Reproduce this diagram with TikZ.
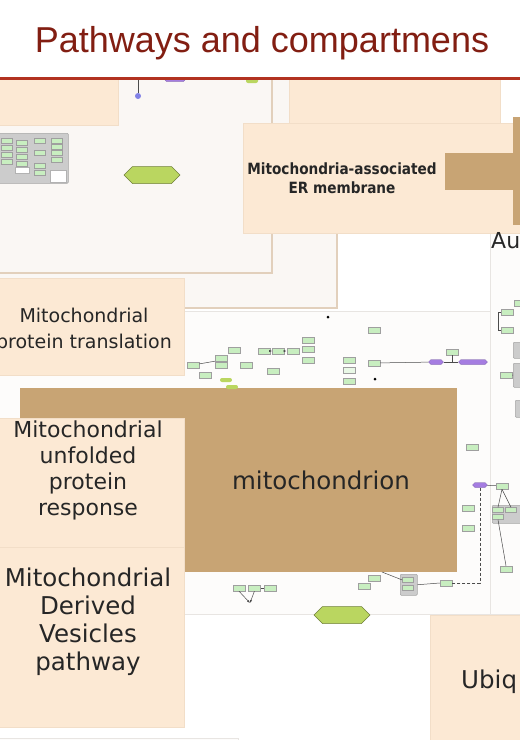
\documentclass[tikz,border=0pt]{standalone}
\usepackage{fontspec}
\setmainfont{DejaVu Sans}
\newfontfamily\titlefont{Liberation Sans}
\newfontfamily\mamfont{DejaVu Sans}[FakeStretch=0.88]
\usetikzlibrary{arrows.meta,positioning,shapes.symbols}
\definecolor{TitleRed}{RGB}{130,30,18}
\definecolor{RuleRed}{RGB}{178,50,32}
\definecolor{Peach}{RGB}{252,233,212}
\definecolor{PeachLine}{RGB}{242,222,200}
\definecolor{MitoTan}{RGB}{200,164,116}
\definecolor{CompLine}{RGB}{226,208,188}
\definecolor{CompFill}{RGB}{250,247,244}
\definecolor{PaleLine}{RGB}{232,229,226}
\definecolor{PaleFill}{RGB}{253,252,251}
\definecolor{GeneGreen}{RGB}{200,238,192}
\definecolor{HexGreen}{RGB}{186,214,96}
\definecolor{ProtPurple}{RGB}{165,125,225}
\definecolor{DotBlue}{RGB}{130,130,230}

\begin{document}
\begin{tikzpicture}[
    x=1pt,y=-1pt,>={Latex[length=3pt]},
    comp/.style={draw=CompLine,line width=2pt,fill=CompFill},
    pale/.style={draw=PaleLine,line width=1pt,fill=PaleFill},
    pathbox/.style={
      fill=Peach,draw=PeachLine,line width=0.6pt,anchor=north west,
      inner sep=0pt,outer sep=0pt
    },
    tanbox/.style={fill=MitoTan,anchor=north west,inner sep=0pt,outer sep=0pt},
    lbl/.style={align=center,text=black!85,inner sep=0pt},
    gene/.style={
      draw=gray!75,fill=GeneGreen,line width=0.4pt,minimum width=12pt,
      minimum height=6pt,inner sep=0pt
    },
    sgene/.style={gene,minimum width=11pt,minimum height=5pt},
    genegrp/.style={
      draw=gray!70,fill=gray!40,rounded corners=1pt,line width=0.5pt,
      anchor=north west,inner sep=0pt
    },
    prot/.style={
      signal,signal to=east and west,draw=ProtPurple!70!black,fill=ProtPurple,
      line width=0.3pt,minimum width=15pt,minimum height=5pt,inner sep=0pt
    },
    hexa/.style={
      signal,signal to=east and west,draw=HexGreen!60!black,fill=HexGreen,
      line width=0.5pt,minimum width=56pt,minimum height=17pt,inner sep=0pt
    },
    dot/.style={circle,fill=black,minimum size=3pt,inner sep=0pt},
    link/.style={draw=gray!60!black,line width=0.5pt}
  ]
  \useasboundingbox (0,0) rectangle (520,740);
  \fill[white] (0,0) rectangle (520,740);

  \begin{scope}
    \clip (0,80) rectangle (520,740);
    % compartments
    \draw[comp] (-10,40) rectangle (337,308);
    \draw[comp] (-10,40) rectangle (272,273);
    \draw[pale] (-10,311) rectangle (490,614);
    \draw[pale] (490,232) rectangle (540,614);
    \draw[pale] (-10,738) rectangle (238,760);

    % pathway boxes
    \node[pathbox,minimum width=119pt,minimum height=50pt] (topl) at (-1,75) {};
    \node[pathbox,minimum width=211pt,minimum height=48pt] (topr) at (289,75) {};
    \node[pathbox,minimum width=280pt,minimum height=110pt] (mam) at (243,123) {};
    \node[tanbox,minimum width=80pt,minimum height=37pt] (mamh) at (445,153) {};
    \node[tanbox,minimum width=10pt,minimum height=108pt] (mamv) at (513,117) {};
    \node[lbl,font=\mamfont\bfseries\fontsize{15.5}{19}\selectfont] (mamLbl)
      at (342,178) {Mitochondria-associated\\ER membrane};
    \node[lbl,font=\fontsize{22}{22}\selectfont,anchor=base west] (auLbl)
      at (491,248) {Au};
    \node[pathbox,minimum width=185pt,minimum height=97pt] (mpt) at (-1,278) {};
    \node[lbl,font=\fontsize{19}{26}\selectfont] (mptLbl)
      at (84,330) {Mitochondrial\\protein translation};
    \node[tanbox,minimum width=437pt,minimum height=184pt] (mito) at (20,388) {};
    \node[lbl,font=\fontsize{24.5}{28}\selectfont,anchor=base] (mitoLbl)
      at (321,489) {mitochondrion};
    \node[pathbox,minimum width=185pt,minimum height=129pt] (upr) at (-1,418) {};
    \node[lbl,font=\fontsize{22}{26}\selectfont] (uprLbl)
      at (88,470) {Mitochondrial\\unfolded\\protein\\response};
    \node[pathbox,minimum width=185pt,minimum height=180pt] (mdv) at (-1,547) {};
    \node[lbl,font=\fontsize{24.5}{28}\selectfont] (mdvLbl)
      at (88,622) {Mitochondrial\\Derived\\Vesicles\\pathway};
    \node[pathbox,minimum width=100pt,minimum height=130pt] (ubq) at (430,615) {};
    \node[lbl,font=\fontsize{24.5}{28}\selectfont,anchor=base west] (ubqLbl)
      at (461,688) {Ubiq};

    % top compartment content
    \node[genegrp,minimum width=70pt,minimum height=50pt] (grpA) at (-2,133) {};
    \node[sgene] (a1) at (7,141) {};  \node[sgene] (a2) at (7,148) {};
    \node[sgene] (a3) at (7,155) {};  \node[sgene] (a4) at (7,162) {};
    \node[sgene] (a5) at (22,143) {}; \node[sgene] (a6) at (22,150) {};
    \node[sgene] (a7) at (22,157) {}; \node[sgene] (a8) at (22,164) {};
    \node[sgene] (a9) at (40,141) {}; \node[sgene] (a10) at (40,153) {};
    \node[sgene] (a11) at (40,166) {}; \node[sgene] (a12) at (40,173) {};
    \node[sgene] (a13) at (57,141) {}; \node[sgene] (a14) at (57,147) {};
    \node[sgene] (a15) at (57,153) {}; \node[sgene] (a16) at (57,160) {};
    \node[fill=white,draw=gray!60,minimum width=16pt,minimum height=12pt,inner sep=0pt]
      (a17) at (58,176) {};
    \node[fill=white,draw=gray!60,minimum width=14pt,minimum height=6pt,inner sep=0pt]
      (a18) at (22,170) {};
    \node[hexa] (hexTop) at (152,175) {};
    \node[circle,fill=DotBlue,minimum size=6pt,inner sep=0pt] (dotB) at (138,96) {};
    \coordinate (topEdge) at (138,78);
    \draw[link] (dotB) -- (topEdge);
    \node[prot,minimum width=22pt] (protTop) at (175,79) {};
    \node[fill=HexGreen,rounded corners=2pt,minimum width=12pt,minimum height=6pt,
      inner sep=0pt] (grnTop) at (252,80) {};

    % middle compartment content
    \node[dot] (dot1) at (328,317) {};
    \node[dot] (dot2) at (375,379) {};
    \node[gene] (g1) at (374,330) {};
    \node[gene] (g2) at (349,360) {};
    \node[gene,fill=GeneGreen!40] (g3) [below=4pt of g2] {};
    \node[gene] (g4) [below=4pt of g3] {};
    \node[gene] (g5) at (374,363) {};
    \node[prot] (p1) at (436,362) {};
    \node[prot,minimum width=29pt] (p2) at (473,362) {};
    \node[gene] (g6) at (452,352) {};
    \coordinate (j1) at (452,362);
    \draw[link] (g5) -- (p1);
    \draw[link] (p1) -- (p2);
    \draw[link] (g6) -- (j1);
    \node[gene] (g7) at (308,340) {};
    \node[gene] (g8) [below=3pt of g7] {};
    \node[gene] (g9) at (308,360) {};
    \node[gene] (g10) at (264,351) {};
    \node[gene] (g11) [right=2pt of g10] {};
    \node[gene] (g12) [right=2pt of g11] {};
    \draw[link,->] (g10) -- (g11);
    \draw[link,->] (g11) -- (g12);
    \node[gene] (g13) at (234,350) {};
    \node[gene] (g14) at (246,365) {};
    \node[gene] (g15) at (273,371) {};
    \node[gene] (g16) at (221,358) {};
    \node[gene] (g17) [below=1pt of g16] {};
    \node[gene] (g18) at (193,365) {};
    \node[gene] (g19) at (205,375) {};
    \draw[link] (g18) -- (g16.south west);
    \node[fill=HexGreen,rounded corners=2pt,minimum width=12pt,minimum height=4pt,
      inner sep=0pt] (e1) at (226,380) {};
    \node[fill=HexGreen,rounded corners=2pt,minimum width=12pt,minimum height=4pt,
      inner sep=0pt] (e2) at (232,387) {};

    % right of mitochondrion
    \node[gene] (g20) at (472,447) {};
    \node[gene] (g21) at (468,508) {};
    \node[gene] (g22) at (468,528) {};
    \node[prot] (p3) at (480,485) {};
    \node[gene] (g23) at (502,486) {};
    \draw[link] (p3) -- (g23);
    \node[genegrp,minimum width=30pt,minimum height=18pt] (grpC) at (492,505) {};
    \node[sgene] (c1) at (498,510) {};
    \node[sgene] (c2) at (498,517) {};
    \node[sgene] (c3) at (511,510) {};
    \draw[link] (g23.south) -- (c1.north);
    \draw[link] (g23.south) -- (c3.north);
    \node[gene] (g24) at (446,583) {};
    \draw[link,densely dashed] (p3) |- (g24);
    \node[gene] (g25) at (506,569) {};
    \draw[link] (c2.south) -- (g25.north);

    % below mitochondrion
    \node[gene] (g26) at (239,588) {};
    \node[gene] (g27) [right=3pt of g26] {};
    \node[gene] (g28) [right=3pt of g27] {};
    \coordinate (tipL) at (250,603);
    \draw[link,->] (g26.south) -- (tipL);
    \draw[link,->] (g27.south) -- (tipL);
    \draw[link] (g27) -- (g28);
    \node[gene] (g29) at (364,586) {};
    \node[gene] (g30) at (374,578) {};
    \node[genegrp,minimum width=17pt,minimum height=21pt] (grpD) at (400,574) {};
    \node[sgene] (d1) at (408,580) {};
    \node[sgene] (d2) at (408,588) {};
    \coordinate (mitoOut) at (382,572);
    \draw[link] (mitoOut) -- (d1.west);
    \draw[link] (grpD.east) -- (g24.west);
    \node[hexa] (hexBot) at (342,615) {};

    % autophagy edge
    \node[gene] (r1) at (507,312) {};
    \node[gene] (r2) at (507,330) {};
    \node[gene] (r3) at (520,303) {};
    \draw[link] (r1.west) -- ++(-3,0) |- (r2.west);
    \node[genegrp,minimum width=10pt,minimum height=16pt] (grpE) at (513,342) {};
    \node[gene] (r4) at (506,375) {};
    \node[genegrp,minimum width=10pt,minimum height=24pt] (grpF) at (513,363) {};
    \draw[link] (r4.east) -- (grpF.west);
    \node[genegrp,minimum width=8pt,minimum height=17pt] (grpG) at (515,400) {};
  \end{scope}

  % title
  \fill[RuleRed] (0,77) rectangle (520,80);
  \node[font=\titlefont\fontsize{36}{40}\selectfont,text=TitleRed,anchor=base,
    inner sep=0pt] (title) at (262,52) {Pathways and compartmens};
\end{tikzpicture}
\end{document}
